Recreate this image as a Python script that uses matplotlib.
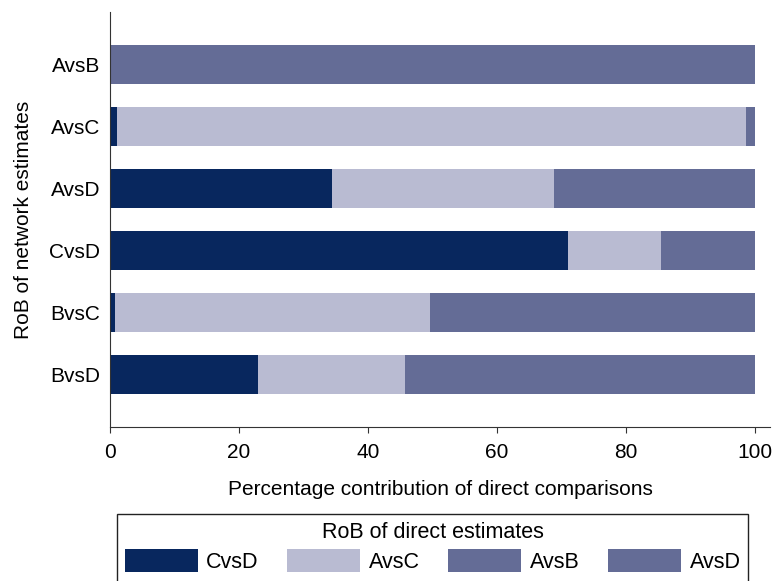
import matplotlib.pyplot as plt
import numpy as np
from matplotlib.patches import Patch, Rectangle

plt.rcParams['font.family'] = ['Liberation Sans', 'DejaVu Sans']

# network estimates, bottom to top
rows = ['BvsD', 'BvsC', 'CvsD', 'AvsD', 'AvsC', 'AvsB']

# contribution of each direct comparison (%)
cvsd = [23.0, 0.8, 71.0, 34.4, 1.1, 0.0]
avsc = [22.8, 48.8, 14.4, 34.4, 97.5, 0.0]
avsb = [54.2, 50.4, 0.0, 0.0, 0.0, 100.0]
avsd = [0.0, 0.0, 14.6, 31.2, 1.4, 0.0]

series = ['CvsD', 'AvsC', 'AvsB', 'AvsD']
colors = ['#08275e', '#b9bbd2', '#646c96', '#646c96']

W, H = 774, 581
fig = plt.figure(figsize=(W / 100, H / 100), dpi=100)
ax = fig.add_axes([110/W, 1 - 427/H, 660/W, 415/H])

y = np.arange(len(rows))
left = np.zeros(len(rows))
for vals, c in zip([cvsd, avsc, avsb, avsd], colors):
    ax.barh(y, vals, left=left, height=0.63, color=c, linewidth=0)
    left += np.array(vals)

ax.set_xlim(0, 102.3)
ax.set_ylim(-0.85, 5.85)
ax.set_yticks(y)
ax.set_yticklabels(rows)
ax.set_xticks([0, 20, 40, 60, 80, 100])
ax.tick_params(axis='y', length=0, pad=7, labelsize=15)
ax.tick_params(axis='x', length=4.5, pad=7, labelsize=15, color='#333333')
ax.spines['top'].set_visible(False)
ax.spines['right'].set_visible(False)
ax.spines['left'].set_color('#333333')
ax.spines['bottom'].set_color('#333333')
ax.set_xlabel('Percentage contribution of direct comparisons', fontsize=15, labelpad=13)
ax.set_ylabel('RoB of network estimates', fontsize=15, labelpad=12)

# legend box runs off the bottom edge
fig.patches.append(Rectangle((117/W, -10/H), 631/W, (H - 514 + 10)/H,
                             transform=fig.transFigure, fill=False,
                             edgecolor='#222222', linewidth=1.0))

handles = [Patch(facecolor=c, edgecolor='none') for c in colors]
leg = fig.legend(handles, series, loc='upper left',
                 bbox_to_anchor=(117/W, 1 - 514/H, 631/W, 0),
                 mode='expand', ncol=4, title='RoB of direct estimates',
                 fontsize=15.5, title_fontsize=15.5, frameon=False,
                 borderaxespad=0, handlelength=3.4, handleheight=1.2,
                 handletextpad=0.4, borderpad=0.35, labelspacing=0.3)
leg._legend_box.sep = 5

fig.savefig('out.png', dpi=100)
